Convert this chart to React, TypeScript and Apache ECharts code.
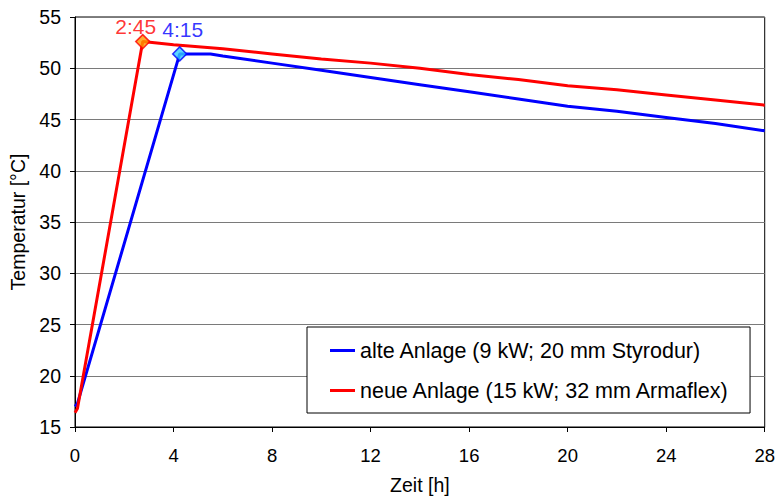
import React, { useEffect, useRef } from "react";
import * as echarts from "echarts";

const xTicks = [0, 4, 8, 12, 16, 20, 24, 28];
const yTicks = [15, 20, 25, 30, 35, 40, 45, 50, 55];

const oldName = "alte Anlage (9 kW; 20 mm Styrodur)";
const oldTime = [0, 0.1, 4.25, 5.5, 6, 8, 10, 12, 14, 16, 18, 20, 22, 24, 26, 28];
const oldTemp = [17.0, 17.3, 51.4, 51.4, 51.2, 50.5, 49.8, 49.1, 48.4, 47.7, 47.0, 46.3, 45.8, 45.2, 44.6, 43.9];

const newName = "neue Anlage (15 kW; 32 mm Armaflex)";
const newTime = [0, 0.1, 2.75, 4, 6, 8, 10, 12, 14, 16, 18, 20, 22, 24, 26, 28];
const newTemp = [16.4, 16.8, 52.6, 52.3, 51.9, 51.4, 50.9, 50.5, 50.0, 49.4, 48.9, 48.3, 47.9, 47.4, 46.9, 46.4];

const oldPeakTime = 4.25;
const oldPeakTemp = 51.4;
const oldPeakLabel = "4:15";
const newPeakTime = 2.75;
const newPeakTemp = 52.6;
const newPeakLabel = "2:45";

const FONT = "'Liberation Sans', Arial, sans-serif";

export default function App() {
  const ref = useRef<HTMLDivElement>(null);
  useEffect(() => {
    if (!ref.current) return;
    const chart = echarts.init(ref.current, null, { renderer: "svg" });
    const zip = (xs: number[], ys: number[]) => xs.map((x, i) => [x, ys[i]]);
    chart.setOption({
      animation: false,
      backgroundColor: "#ffffff",
      textStyle: { fontFamily: FONT },
      grid: {
        left: 75,
        right: 12,
        top: 17,
        bottom: 72,
        show: true,
        borderColor: "#000000",
        borderWidth: 1,
        backgroundColor: "transparent",
      },
      legend: {
        left: 307,
        top: 327,
        orient: "vertical",
        data: [oldName, newName],
        icon: "rect",
        itemWidth: 25,
        itemHeight: 3,
        itemGap: 17,
        itemTextGap: 5,
        padding: [12, 20, 11, 23],
        backgroundColor: "#ffffff",
        borderColor: "#000000",
        borderWidth: 1,
        textStyle: { fontFamily: FONT, fontSize: 21.5, color: "#000000", lineHeight: 23 },
      },
      xAxis: {
        type: "value",
        min: xTicks[0],
        max: xTicks[xTicks.length - 1],
        interval: 4,
        name: "Zeit [h]",
        nameLocation: "middle",
        nameGap: 48,
        nameTextStyle: { fontFamily: FONT, fontSize: 19.5, color: "#000000" },
        axisLine: { show: true, lineStyle: { color: "#000000", width: 1 } },
        axisTick: { show: true, inside: false, length: 5, lineStyle: { color: "#000000" } },
        axisLabel: { fontFamily: FONT, fontSize: 18.5, color: "#000000", margin: 19 },
        splitLine: { show: false },
      },
      yAxis: {
        type: "value",
        min: yTicks[0],
        max: yTicks[yTicks.length - 1],
        interval: 5,
        name: "Temperatur [°C]",
        nameLocation: "middle",
        nameGap: 46,
        nameTextStyle: { fontFamily: FONT, fontSize: 19.5, color: "#000000" },
        axisLine: { show: true, lineStyle: { color: "#000000", width: 1 } },
        axisTick: { show: true, inside: false, length: 5, lineStyle: { color: "#000000" } },
        axisLabel: { fontFamily: FONT, fontSize: 19.5, color: "#000000", margin: 14 },
        splitLine: { show: true, lineStyle: { color: "#7a7a7a", width: 1 } },
      },
      series: [
        {
          name: oldName,
          type: "line",
          data: zip(oldTime, oldTemp),
          showSymbol: false,
          symbol: "none",
          lineStyle: { color: "#0000FF", width: 3 },
          itemStyle: { color: "#0000FF" },
          z: 2,
        },
        {
          name: newName,
          type: "line",
          data: zip(newTime, newTemp),
          showSymbol: false,
          symbol: "none",
          lineStyle: { color: "#FF0000", width: 3 },
          itemStyle: { color: "#FF0000" },
          z: 3,
        },
        {
          name: "peakOld",
          type: "scatter",
          data: [[oldPeakTime, oldPeakTemp]],
          symbol: "diamond",
          symbolSize: 14,
          itemStyle: { color: "#33CCFF", borderColor: "#0000FF", borderWidth: 1.5 },
          label: {
            show: true,
            formatter: oldPeakLabel,
            position: "inside",
            offset: [3, -24],
            fontFamily: FONT,
            fontSize: 21,
            color: "#0000FF",
          },
          z: 5,
        },
        {
          name: "peakNew",
          type: "scatter",
          data: [[newPeakTime, newPeakTemp]],
          symbol: "diamond",
          symbolSize: 14,
          itemStyle: { color: "#FF9900", borderColor: "#FF0000", borderWidth: 1.5 },
          label: {
            show: true,
            formatter: newPeakLabel,
            position: "inside",
            offset: [-7, -15],
            fontFamily: FONT,
            fontSize: 21,
            color: "#FF0000",
          },
          z: 5,
        },
      ],
    });
    return () => chart.dispose();
  }, []);
  return (
    <div
      ref={ref}
      style={{ position: "absolute", left: 0, top: 0, width: 778, height: 500 }}
    />
  );
}
